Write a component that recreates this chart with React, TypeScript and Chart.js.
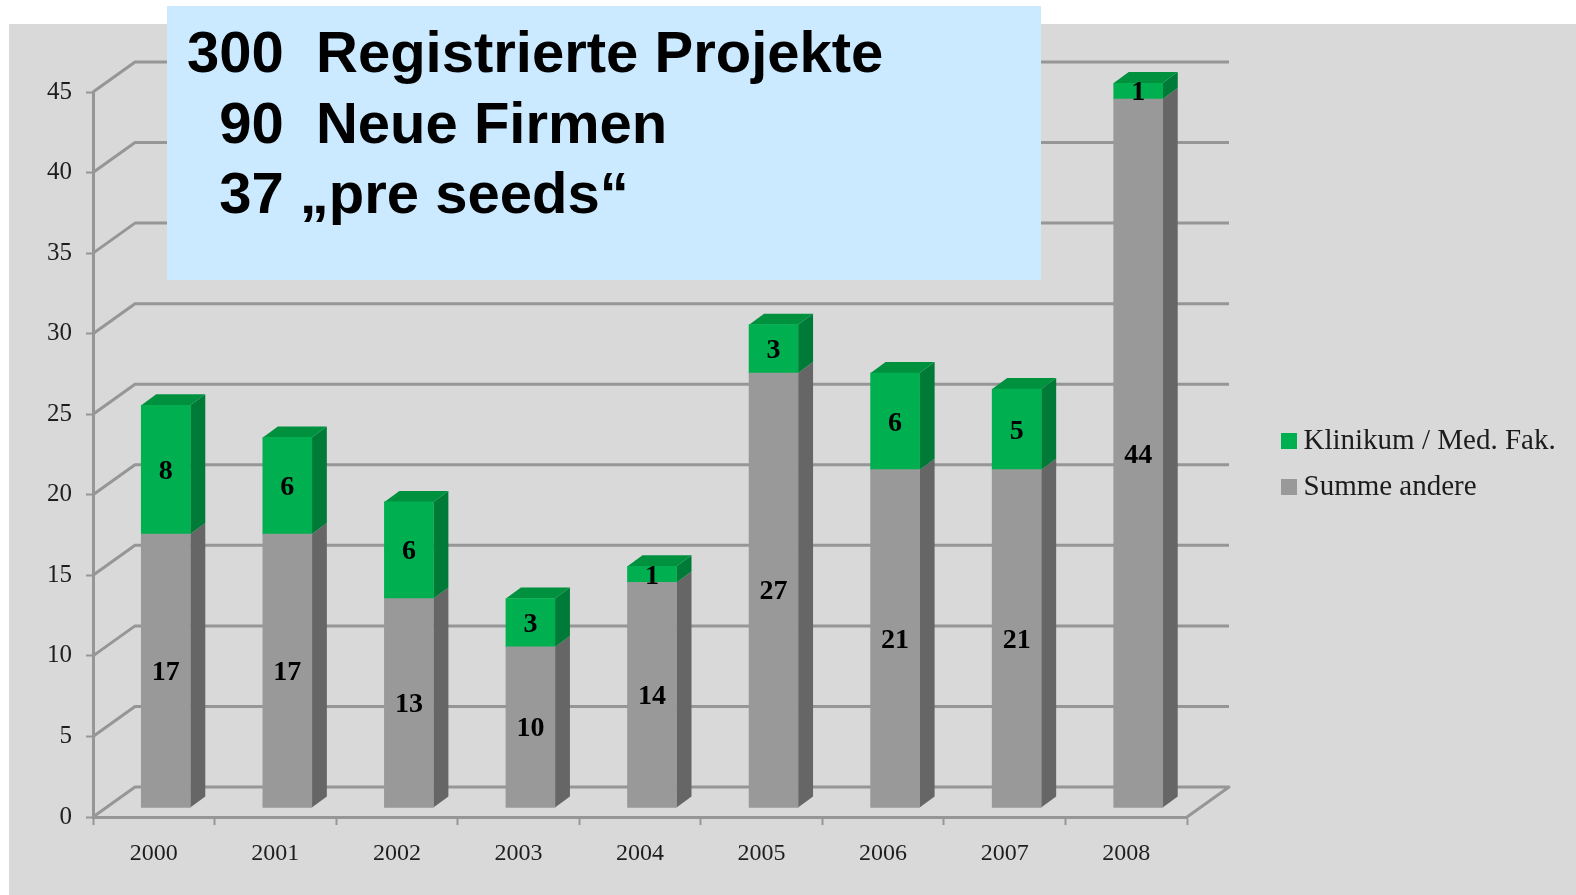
import React, { useEffect, useRef } from "react";
import { Chart, registerables } from "chart.js";

Chart.register(...registerables);

const years = ["2000", "2001", "2002", "2003", "2004", "2005", "2006", "2007", "2008"];
const summeAndere = [17, 17, 13, 10, 14, 27, 21, 21, 44];
const klinikum = [8, 6, 6, 3, 1, 3, 6, 5, 1];
const infoLines = ["300  Registrierte Projekte", "  90  Neue Firmen", "  37 „pre seeds“"];

const WALL_DX = 42;
const WALL_DY = -30;
const BAR_DX = 12;
const BAR_DY = -9;
const BAR_DEPTH_X = 15;
const BAR_DEPTH_Y = -11;
const LINE = "#969696";
const SERIF = "'Liberation Serif', serif";

const poly = (ctx: CanvasRenderingContext2D, pts: number[][], fill: string) => {
  ctx.beginPath();
  pts.forEach(([x, y], i) => (i ? ctx.lineTo(x, y) : ctx.moveTo(x, y)));
  ctx.closePath();
  ctx.fillStyle = fill;
  ctx.fill();
};

const faces = [
  { side: "#666666" },
  { side: "#007A37", top: "#00913F" },
];

const plugin3d = {
  id: "plugin3d",
  afterLayout(chart: any) {
    chart.legend.left = 1272;
    chart.legend.top = 409.5;
    chart.legend.right = 1576;
    chart.legend.bottom = 540;
  },
  beforeDraw(chart: any) {
    const { ctx, width, height } = chart;
    ctx.save();
    ctx.fillStyle = "#FFFFFF";
    ctx.fillRect(0, 0, width, height);
    ctx.fillStyle = "#D9D9D9";
    ctx.fillRect(9, 24, width - 9, height - 24);
    ctx.restore();
  },
  beforeDatasetsDraw(chart: any) {
    const { ctx, chartArea, scales } = chart;
    const { left, right, bottom } = chartArea;
    ctx.save();
    ctx.strokeStyle = LINE;
    ctx.lineWidth = 3;
    ctx.lineJoin = "round";
    scales.y.ticks.forEach((t: any) => {
      const y = scales.y.getPixelForValue(t.value);
      ctx.beginPath();
      ctx.moveTo(left, y);
      ctx.lineTo(left + WALL_DX, y + WALL_DY);
      ctx.lineTo(right + WALL_DX, y + WALL_DY);
      if (t.value === 0) ctx.lineTo(right, bottom);
      ctx.stroke();
    });
    ctx.restore();

    // depth faces of the bars, taken from the bar elements
    ctx.save();
    ctx.translate(BAR_DX, BAR_DY);
    chart.data.datasets.forEach((_: any, d: number) => {
      chart.getDatasetMeta(d).data.forEach((el: any) => {
        const r = el.x + el.width / 2;
        const l = el.x - el.width / 2;
        poly(ctx, [
          [r, el.y],
          [r + BAR_DEPTH_X, el.y + BAR_DEPTH_Y],
          [r + BAR_DEPTH_X, el.base + BAR_DEPTH_Y],
          [r, el.base],
        ], faces[d].side);
        if (faces[d].top) {
          poly(ctx, [
            [l, el.y],
            [l + BAR_DEPTH_X, el.y + BAR_DEPTH_Y],
            [r + BAR_DEPTH_X, el.y + BAR_DEPTH_Y],
            [r, el.y],
          ], faces[d].top as string);
        }
      });
    });
    // leave the translation active for the front faces
  },
  afterDatasetsDraw(chart: any) {
    const { ctx } = chart;
    ctx.fillStyle = "#000000";
    ctx.font = `bold 28px ${SERIF}`;
    ctx.textAlign = "center";
    ctx.textBaseline = "middle";
    chart.data.datasets.forEach((ds: any, d: number) => {
      chart.getDatasetMeta(d).data.forEach((el: any, i: number) => {
        ctx.fillText(String(ds.data[i]), el.x, (el.y + el.base) / 2 + 2);
      });
    });
    ctx.restore();
  },
};

export default function App() {
  const ref = useRef<HTMLCanvasElement>(null);

  useEffect(() => {
    const chart = new Chart(ref.current as HTMLCanvasElement, {
      type: "bar",
      data: {
        labels: years,
        datasets: [
          { label: "Summe andere", data: summeAndere, backgroundColor: "#999999", barThickness: 49 },
          { label: "Klinikum / Med. Fak.", data: klinikum, backgroundColor: "#00B050", barThickness: 49 },
        ],
      },
      options: {
        animation: false,
        responsive: false,
        devicePixelRatio: 1,
        layout: { padding: { top: 92, right: 389, left: 0, bottom: 0 } },
        plugins: {
          tooltip: { enabled: false },
          title: { display: false },
          legend: {
            position: "chartArea",
            align: "start",
            labels: {
              usePointStyle: true,
              pointStyle: "rect",
              boxWidth: 0.01,
              boxHeight: 16,
              padding: 17,
              color: "#1c1c1c",
              font: { family: SERIF, size: 29 },
              sort: (a: any, b: any) => b.datasetIndex - a.datasetIndex,
            },
          },
        },
        scales: {
          x: {
            stacked: true,
            afterFit: (s: any) => { s.height = 78; },
            border: { color: LINE, width: 3 },
            grid: { drawOnChartArea: false, drawTicks: true, tickLength: 8, tickColor: LINE, tickWidth: 2 },
            ticks: { color: "#1e1e1e", padding: 14, font: { family: SERIF, size: 24 }, maxRotation: 0 },
          },
          y: {
            stacked: true,
            min: 0,
            max: 45,
            afterFit: (s: any) => { s.width = 93; },
            border: { color: LINE, width: 3 },
            grid: { drawOnChartArea: false, drawTicks: true, tickLength: 7, tickColor: LINE, tickWidth: 2 },
            ticks: { stepSize: 5, color: "#1e1e1e", padding: 14, font: { family: SERIF, size: 25 } },
          },
        },
      },
      plugins: [plugin3d],
    } as any);
    return () => chart.destroy();
  }, []);

  return (
    <div style={{ position: "fixed", left: 0, top: 0, width: 1576, height: 895, overflow: "hidden", background: "#fff", filter: "blur(0.5px)" }}>
      <canvas ref={ref} width={1576} height={895} style={{ position: "absolute", left: 0, top: 0, display: "block" }} />
      <div
        style={{
          position: "absolute",
          left: 167,
          top: 6,
          width: 874,
          height: 274,
          background: "#CBEAFF",
          fontFamily: "'Liberation Sans', Arial, sans-serif",
          fontWeight: "bold",
          fontSize: 58,
          lineHeight: "70.5px",
          color: "#000",
          whiteSpace: "pre",
          paddingTop: 11,
          paddingLeft: 20,
          boxSizing: "border-box",
        }}
      >
        {infoLines.map((l) => (
          <div key={l}>{l}</div>
        ))}
      </div>
    </div>
  );
}
